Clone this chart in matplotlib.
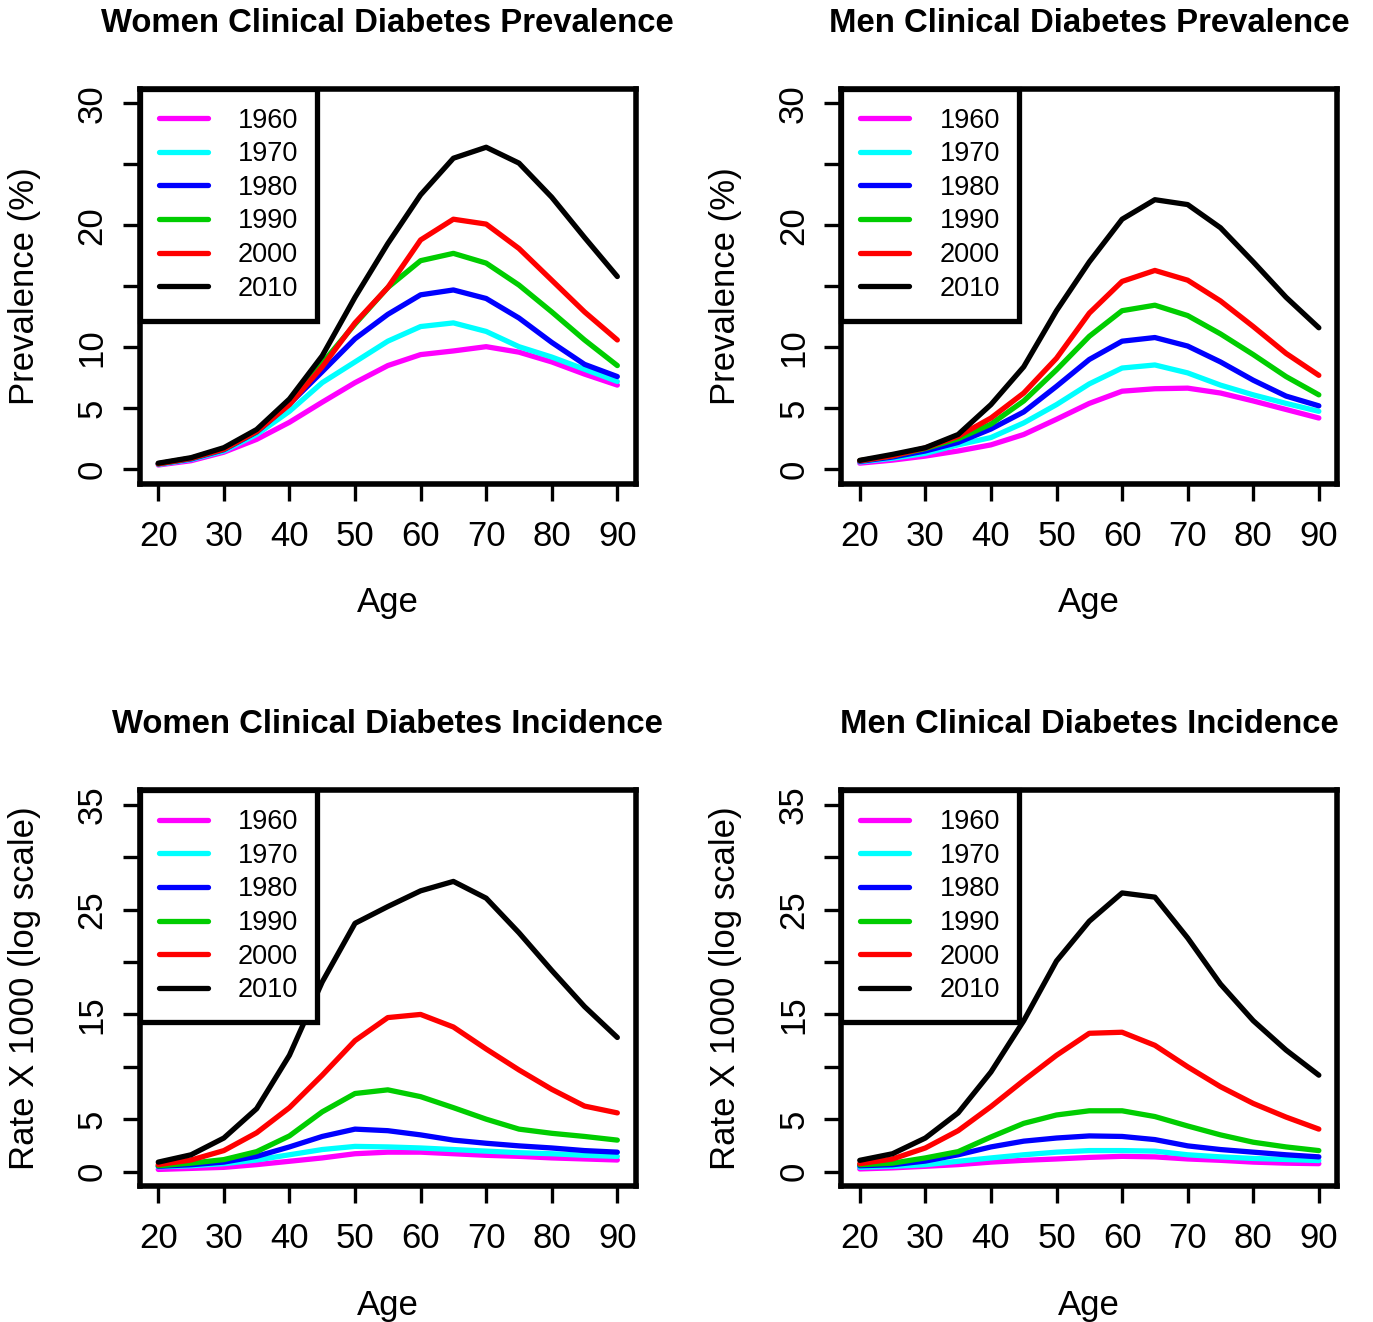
import matplotlib
matplotlib.use("Agg")
import matplotlib.pyplot as plt

plt.rcParams['font.family'] = ['Liberation Sans', 'DejaVu Sans']

ages = [20, 25, 30, 35, 40, 45, 50, 55, 60, 65, 70, 75, 80, 85, 90]
years = ["1960", "1970", "1980", "1990", "2000", "2010"]
colors = ["#FF00FF", "#00FFFF", "#0000FF", "#00CD00", "#FF0000", "#000000"]

# Women clinical diabetes prevalence (%)
w_prev_1960 = [0.35, 0.7, 1.4, 2.45, 3.85, 5.5, 7.1, 8.5, 9.4, 9.7, 10.05, 9.6, 8.8, 7.8, 6.9]
w_prev_1970 = [0.4, 0.8, 1.5, 2.85, 4.75, 7.1, 8.8, 10.5, 11.7, 12.0, 11.3, 10.05, 9.2, 8.2, 7.2]
w_prev_1980 = [0.45, 0.85, 1.6, 3.05, 5.35, 8.0, 10.7, 12.7, 14.3, 14.7, 14.0, 12.4, 10.4, 8.6, 7.6]
w_prev_1990 = [0.45, 0.9, 1.65, 3.1, 5.4, 8.7, 11.9, 14.9, 17.1, 17.7, 16.9, 15.1, 12.9, 10.6, 8.5]
w_prev_2000 = [0.45, 0.9, 1.65, 3.1, 5.3, 8.4, 12.0, 14.9, 18.8, 20.5, 20.1, 18.1, 15.5, 12.9, 10.6]
w_prev_2010 = [0.5, 0.95, 1.77, 3.26, 5.76, 9.3, 14.1, 18.5, 22.5, 25.5, 26.4, 25.1, 22.3, 19.0, 15.8]

# Men clinical diabetes prevalence (%)
m_prev_1960 = [0.5, 0.75, 1.08, 1.5, 2.0, 2.85, 4.1, 5.4, 6.4, 6.6, 6.65, 6.25, 5.6, 4.9, 4.2]
m_prev_1970 = [0.6, 0.9, 1.3, 2.0, 2.6, 3.8, 5.3, 7.0, 8.3, 8.55, 7.9, 6.9, 6.1, 5.4, 4.75]
m_prev_1980 = [0.65, 1.0, 1.5, 2.2, 3.3, 4.7, 6.8, 9.0, 10.5, 10.8, 10.1, 8.8, 7.3, 6.0, 5.2]
m_prev_1990 = [0.7, 1.1, 1.7, 2.5, 3.7, 5.6, 8.15, 10.9, 13.0, 13.45, 12.6, 11.1, 9.4, 7.6, 6.1]
m_prev_2000 = [0.7, 1.1, 1.75, 2.7, 4.2, 6.25, 9.1, 12.8, 15.4, 16.3, 15.5, 13.8, 11.7, 9.5, 7.7]
m_prev_2010 = [0.73, 1.22, 1.77, 2.85, 5.3, 8.4, 13.0, 17.0, 20.5, 22.1, 21.7, 19.8, 17.0, 14.1, 11.6]

# Women clinical diabetes incidence (rate x 1000)
w_inc_1960 = [0.2, 0.3, 0.4, 0.66, 0.98, 1.3, 1.7, 1.85, 1.85, 1.7, 1.55, 1.45, 1.3, 1.2, 1.1]
w_inc_1970 = [0.45, 0.55, 0.75, 1.1, 1.6, 2.1, 2.4, 2.35, 2.25, 2.1, 1.95, 1.8, 1.7, 1.55, 1.45]
w_inc_1980 = [0.5, 0.65, 0.9, 1.45, 2.35, 3.35, 4.05, 3.9, 3.5, 3.0, 2.7, 2.45, 2.25, 2.0, 1.85]
w_inc_1990 = [0.55, 0.8, 1.14, 1.9, 3.4, 5.7, 7.45, 7.8, 7.15, 6.1, 5.0, 4.05, 3.65, 3.35, 3.0]
w_inc_2000 = [0.66, 1.1, 2.0, 3.7, 6.1, 9.2, 12.5, 14.7, 15.0, 13.8, 11.7, 9.7, 7.85, 6.25, 5.6]
w_inc_2010 = [0.9, 1.6, 3.2, 6.0, 11.1, 18.1, 23.7, 25.3, 26.8, 27.7, 26.1, 22.8, 19.2, 15.75, 12.8]

# Men clinical diabetes incidence (rate x 1000)
m_inc_1960 = [0.25, 0.35, 0.5, 0.66, 0.9, 1.07, 1.2, 1.35, 1.45, 1.4, 1.2, 1.07, 0.9, 0.8, 0.75]
m_inc_1970 = [0.4, 0.5, 0.65, 0.98, 1.3, 1.6, 1.85, 2.0, 2.0, 1.95, 1.6, 1.4, 1.25, 1.15, 1.05]
m_inc_1980 = [0.55, 0.65, 1.0, 1.6, 2.35, 2.9, 3.2, 3.4, 3.35, 3.05, 2.45, 2.1, 1.85, 1.6, 1.4]
m_inc_1990 = [0.65, 0.8, 1.3, 1.9, 3.3, 4.6, 5.4, 5.8, 5.8, 5.25, 4.35, 3.5, 2.8, 2.35, 2.0]
m_inc_2000 = [0.75, 1.2, 2.25, 3.9, 6.2, 8.7, 11.1, 13.2, 13.3, 12.05, 10.0, 8.1, 6.5, 5.2, 4.05]
m_inc_2010 = [1.07, 1.7, 3.2, 5.6, 9.5, 14.4, 20.1, 23.9, 26.6, 26.2, 22.3, 17.9, 14.4, 11.6, 9.2]

prev_ticks = [0, 5, 10, 15, 20, 25, 30]
prev_labels = ["0", "5", "10", "", "20", "", "30"]
inc_ticks = [0, 5, 10, 15, 20, 25, 30, 35]
inc_labels = ["0", "5", "", "15", "", "25", "", "35"]
x_ticks = [20, 30, 40, 50, 60, 70, 80, 90]

panels = [
    dict(title="Women Clinical Diabetes Prevalence", ylabel="Prevalence (%)",
         series=[w_prev_1960, w_prev_1970, w_prev_1980, w_prev_1990, w_prev_2000, w_prev_2010],
         ylim=(-1.2, 31.2), yt=prev_ticks, yl=prev_labels, pos=(139.9, 88.7, 635.7, 483.9)),
    dict(title="Men Clinical Diabetes Prevalence", ylabel="Prevalence (%)",
         series=[m_prev_1960, m_prev_1970, m_prev_1980, m_prev_1990, m_prev_2000, m_prev_2010],
         ylim=(-1.2, 31.2), yt=prev_ticks, yl=prev_labels, pos=(841.4, 88.7, 1337.2, 483.9)),
    dict(title="Women Clinical Diabetes Incidence", ylabel="Rate X 1000 (log scale)",
         series=[w_inc_1960, w_inc_1970, w_inc_1980, w_inc_1990, w_inc_2000, w_inc_2010],
         ylim=(-1.4, 36.4), yt=inc_ticks, yl=inc_labels, pos=(139.9, 790.3, 635.7, 1186.2)),
    dict(title="Men Clinical Diabetes Incidence", ylabel="Rate X 1000 (log scale)",
         series=[m_inc_1960, m_inc_1970, m_inc_1980, m_inc_1990, m_inc_2000, m_inc_2010],
         ylim=(-1.4, 36.4), yt=inc_ticks, yl=inc_labels, pos=(841.4, 790.3, 1337.2, 1186.2)),
]

W, H = 1373, 1322
fig = plt.figure(figsize=(W / 100, H / 100), dpi=100)

for p in panels:
    x0, y0, x1, y1 = p["pos"]
    ax = fig.add_axes([x0 / W, 1 - y1 / H, (x1 - x0) / W, (y1 - y0) / H])
    for vals, c, yr in zip(p["series"], colors, years):
        ax.plot(ages, vals, color=c, lw=3.8, label=yr, solid_capstyle='round',
                solid_joinstyle='round')
    ax.set_xlim(17.2, 92.8)
    ax.set_ylim(*p["ylim"])
    ax.set_xticks(x_ticks)
    ax.set_yticks(p["yt"])
    ax.set_yticklabels(p["yl"], rotation=90, va='center')
    for s in ax.spines.values():
        s.set_linewidth(4.0)
    ax.tick_params(axis='both', direction='out', length=12.5, width=2.4,
                   labelsize=25)
    ax.tick_params(axis='x', pad=13.5)
    ax.tick_params(axis='y', pad=10)
    ax.set_title(p["title"], fontsize=23.7, fontweight='bold', pad=41)
    ax.set_xlabel("Age", fontsize=25, labelpad=24)
    ax.set_ylabel(p["ylabel"], fontsize=25, labelpad=25)
    leg = ax.legend(loc='upper left', bbox_to_anchor=(0, 1), borderaxespad=0,
                    fancybox=False, edgecolor='black', framealpha=1,
                    fontsize=19.5, handlelength=1.8, handletextpad=1.12,
                    labelspacing=0.28, borderpad=0.7)
    leg.get_frame().set_linewidth(3.8)
    for ln in leg.get_lines():
        ln.set_linewidth(3.8)

fig.savefig("out.png", dpi=100)
